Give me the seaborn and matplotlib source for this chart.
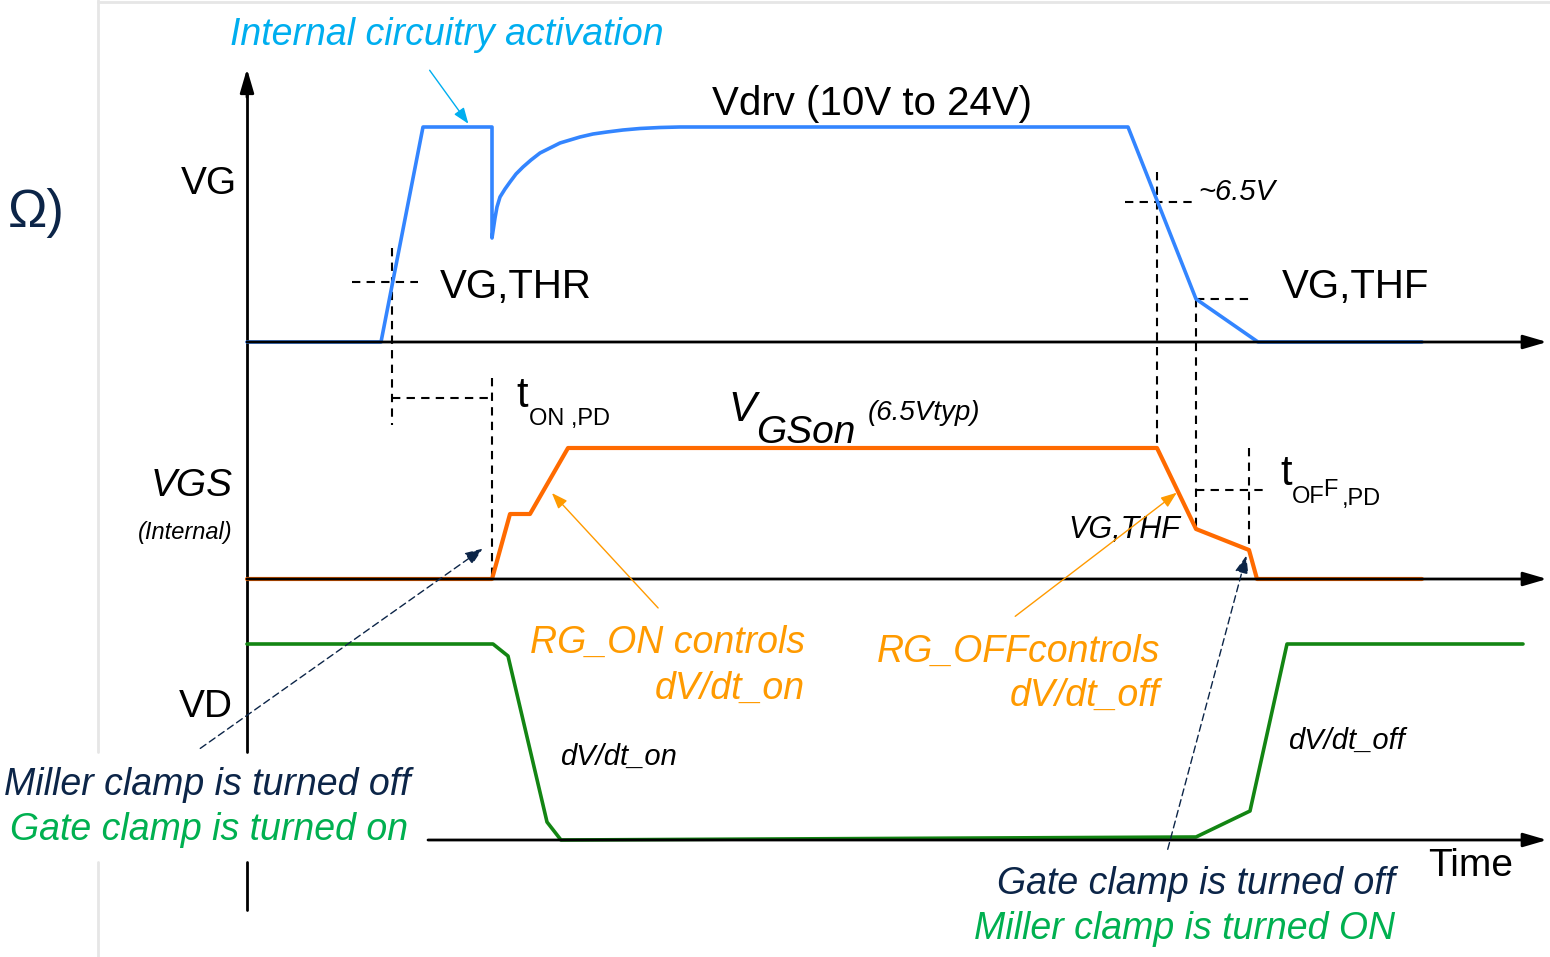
import matplotlib
matplotlib.use("Agg")
import matplotlib.pyplot as plt
import seaborn as sns

# waveform corner points, in pixel coordinates (y grows downwards)
vg_x = [247, 381, 423, 492, 492, 495, 497, 500, 505, 510, 516, 523, 531, 540, 550, 560, 570,
        580, 593, 607, 623, 640, 660, 680, 720, 1128, 1196, 1258, 1422]
vg_y = [342, 342, 127, 127, 238, 218, 207, 197, 189, 182, 174, 167, 160, 153, 148, 143, 140,
        137, 134, 132, 130, 128.5, 127.5, 127, 127, 127, 299, 342, 342]

vgs_x = [247, 492, 510, 530, 568, 1157, 1196, 1249, 1257, 1422]
vgs_y = [579, 579, 514, 514, 448, 448, 529, 550, 579, 579]

vd_x = [247, 493, 508, 547, 561, 1196, 1250, 1287, 1523]
vd_y = [644, 644, 656, 822, 840, 837, 811, 644, 644]

# dashed guide lines (x0, y0, x1, y1)
guides = [
    (352, 282, 418, 282), (392, 248, 392, 425), (392, 398, 492, 398), (492, 378, 492, 579),
    (1125, 202, 1195, 202), (1157, 172, 1157, 448), (1196, 299, 1252, 299), (1196, 299, 1196, 530),
    (1196, 490, 1265, 490), (1249, 448, 1249, 551),
]

BLUE = "#3385FF"
ORANGE = "#FF6A00"
GREEN = "#138513"
LBLUE = "#00AEEF"
AMBER = "#FF9A00"
NAVY = "#0C2548"
TGREEN = "#00B050"

sns.set_theme(style="white")
plt.rcParams["font.family"] = ["Liberation Sans", "DejaVu Sans"]
plt.rcParams["text.color"] = "black"

fig = plt.figure(figsize=(15.5, 9.57), dpi=100)
ax = fig.add_axes([0, 0, 1, 1])
ax.set_xlim(0, 1550)
ax.set_ylim(957, 0)
ax.axis("off")

# slide border and axes
ax.plot([98, 98], [0, 752], color="#E6E6E6", lw=2)
ax.plot([98, 98], [862, 957], color="#E6E6E6", lw=2)
ax.plot([98, 1550], [2, 2], color="#E6E6E6", lw=2)
ax.plot([247, 247], [80, 752], color="black", lw=2)
ax.plot([247, 247], [862, 910], color="black", lw=2)
ax.annotate("", xy=(247, 66), xytext=(247, 100),
            arrowprops=dict(arrowstyle="-|>,head_length=1.2,head_width=0.35", color="black", lw=2))
for y0, x0 in [(342, 247), (579, 247), (840, 428)]:
    ax.annotate("", xy=(1547, y0), xytext=(x0, y0),
                arrowprops=dict(arrowstyle="-|>,head_length=1.2,head_width=0.35", color="black", lw=2,
                                shrinkA=0, shrinkB=0))

for x0, y0, x1, y1 in guides:
    ax.plot([x0, x1], [y0, y1], color="black", lw=1.5, ls=(0, (4, 3)))

# waveforms
sns.lineplot(x=vg_x, y=vg_y, sort=False, estimator=None, color=BLUE, lw=2.6, ax=ax)
sns.lineplot(x=vgs_x, y=vgs_y, sort=False, estimator=None, color=ORANGE, lw=3, ax=ax)
sns.lineplot(x=vd_x, y=vd_y, sort=False, estimator=None, color=GREEN, lw=2.6, ax=ax)

# labels
ax.text(8, 213, "Ω)", fontsize=38, color=NAVY, va="center")
ax.text(237, 184, "VG", fontsize=28, ha="right", va="center")
ax.text(233, 707, "VD", fontsize=28, ha="right", va="center")
ax.text(233, 486, "VGS", fontsize=28, ha="right", va="center", style="italic")
ax.text(233, 532, "(Internal)", fontsize=17, ha="right", va="center", style="italic")
ax.text(230, 35, "Internal circuitry activation", fontsize=27, color=LBLUE, va="center", style="italic")
ax.annotate("", xy=(470, 126), xytext=(428, 68),
            arrowprops=dict(arrowstyle="-|>,head_length=0.8,head_width=0.3", color=LBLUE, lw=1))
ax.text(712, 104, "Vdrv (10V to 24V)", fontsize=29, va="center")
ax.text(440, 287, "VG,THR", fontsize=29, va="center")
ax.text(1282, 287, "VG,THF", fontsize=29, va="center")
ax.text(1198, 192, "~6.5V", fontsize=21, va="center", style="italic")
ax.text(516, 396, "t", fontsize=30, va="center")
ax.text(529, 419, "ON ,PD", fontsize=17, va="center")
ax.text(1280, 474, "t", fontsize=30, va="center")
ax.text(1292, 497, "OF", fontsize=17, va="center")
ax.text(1323, 490, "F", fontsize=17, va="center")
ax.text(1342, 499, ",PD", fontsize=17, va="center")
ax.text(728, 410, "V", fontsize=30, va="center", style="italic")
ax.text(756, 433, "GSon", fontsize=28, va="center", style="italic")
ax.text(868, 413, "(6.5Vtyp)", fontsize=20, va="center", style="italic")
ax.text(1068, 530, "VG,THF", fontsize=22, va="center", style="italic")

ax.annotate("", xy=(550, 491), xytext=(660, 610),
            arrowprops=dict(arrowstyle="-|>,head_length=0.8,head_width=0.3", color=AMBER, lw=1))
ax.annotate("", xy=(1179, 491), xytext=(1013, 618),
            arrowprops=dict(arrowstyle="-|>,head_length=0.8,head_width=0.3", color=AMBER, lw=1))
ax.text(805, 643, "RG_ON controls", fontsize=27, color=AMBER, ha="right", va="center", style="italic")
ax.text(805, 689, "dV/dt_on", fontsize=27, color=AMBER, ha="right", va="center", style="italic")
ax.text(1160, 652, "RG_OFFcontrols", fontsize=27, color=AMBER, ha="right", va="center", style="italic")
ax.text(1160, 696, "dV/dt_off", fontsize=27, color=AMBER, ha="right", va="center", style="italic")
ax.text(560, 757, "dV/dt_on", fontsize=21, va="center", style="italic")
ax.text(1288, 741, "dV/dt_off", fontsize=21, va="center", style="italic")

ax.annotate("", xy=(485, 547), xytext=(198, 750),
            arrowprops=dict(arrowstyle="-|>,head_length=0.9,head_width=0.35", color=NAVY, lw=1, ls=(0, (5, 3))))
ax.annotate("", xy=(1247, 553), xytext=(1167, 852),
            arrowprops=dict(arrowstyle="-|>,head_length=0.9,head_width=0.35", color=NAVY, lw=1, ls=(0, (5, 3))))
ax.text(410, 785, "Miller clamp is turned off", fontsize=27, color=NAVY, ha="right", va="center", style="italic")
ax.text(408, 830, "Gate clamp is turned on", fontsize=27, color=TGREEN, ha="right", va="center", style="italic")
ax.text(1395, 884, "Gate clamp is turned off", fontsize=27, color=NAVY, ha="right", va="center", style="italic")
ax.text(1395, 929, "Miller clamp is turned ON", fontsize=27, color=TGREEN, ha="right", va="center", style="italic")
ax.text(1428, 866, "Time", fontsize=28, va="center")

fig.savefig("out.png", dpi=100)
